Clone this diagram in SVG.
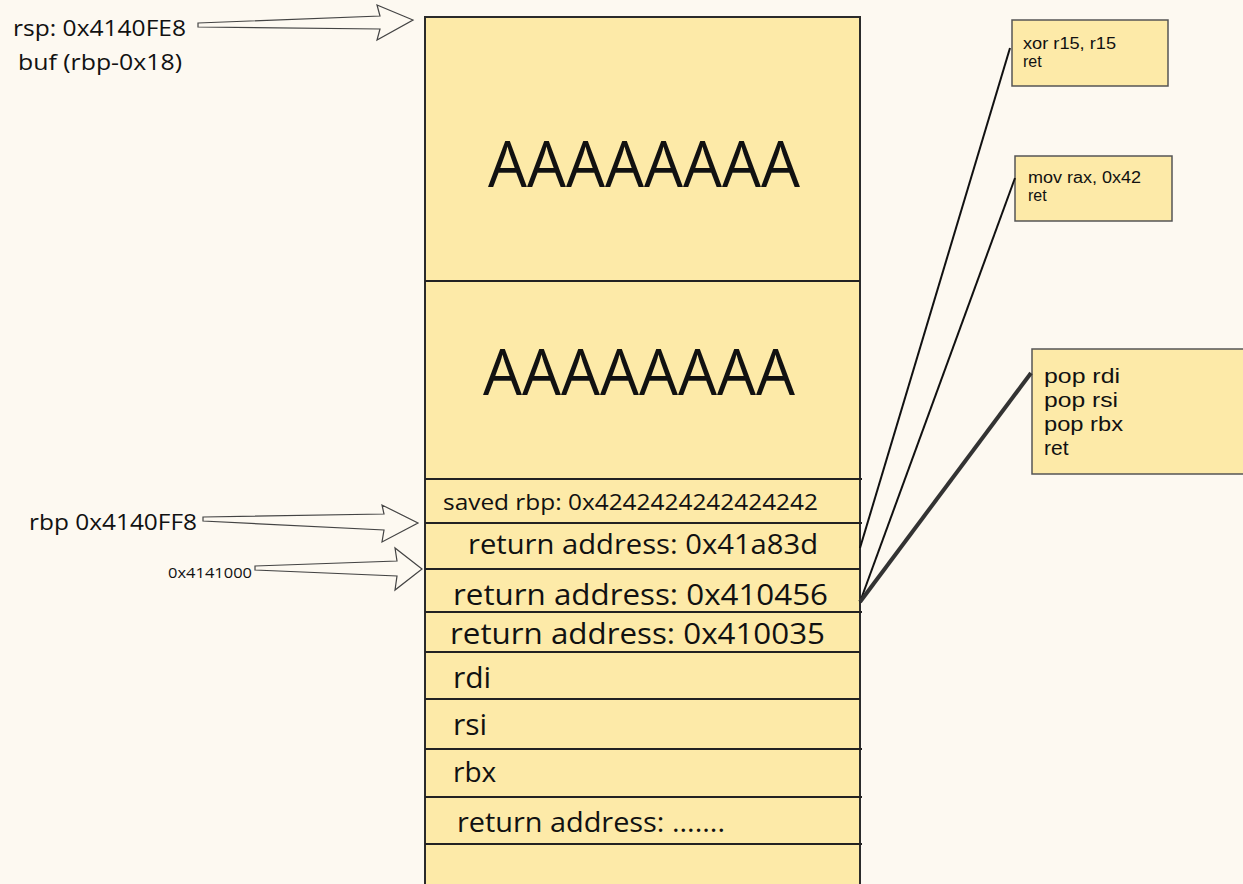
<svg xmlns="http://www.w3.org/2000/svg" width="1243" height="884" viewBox="0 0 1243 884">
  <style>
    .bg { fill: #fdf9f1; }
    .cell { fill: #fdeaa8; stroke: #2b2b2b; stroke-width: 2; }
    .sep { stroke: #222; stroke-width: 2; }
    .box { fill: #fdeaa8; stroke: #555; stroke-width: 1.5; }
    .t { font-family: "Open Sans", "Noto Sans", "Liberation Sans", sans-serif; fill: #111; }
    .tc { font-family: "Liberation Sans", "Open Sans", sans-serif; fill: #111; }
    .harrow { fill: #fdf9f1; stroke: #444; stroke-width: 1.2; stroke-linejoin: miter; }
    .link { stroke: #111; stroke-width: 2; fill: none; }
    .link-bold { stroke: #333; stroke-width: 4; fill: none; }
  </style>

  <rect class="bg" x="0" y="0" width="1243" height="884"/>

  <!-- stack frame column -->
  <g id="stack">
    <rect class="cell" x="425" y="17" width="435" height="880"/>
    <line class="sep" x1="425" y1="281" x2="860" y2="281"/>
    <line class="sep" x1="425" y1="479" x2="862" y2="479"/>
    <line class="sep" x1="425" y1="523" x2="862" y2="523"/>
    <line class="sep" x1="425" y1="569" x2="860" y2="569"/>
    <line class="sep" x1="425" y1="612" x2="862" y2="612"/>
    <line class="sep" x1="425" y1="652" x2="860" y2="652"/>
    <line class="sep" x1="425" y1="699" x2="860" y2="699"/>
    <line class="sep" x1="425" y1="749" x2="862" y2="749"/>
    <line class="sep" x1="425" y1="797" x2="862" y2="797"/>
    <line class="sep" x1="425" y1="844" x2="862" y2="844"/>
  </g>

  <g id="slot-buf-0">
    <text class="t" x="488" y="187" font-size="64" textLength="312" lengthAdjust="spacingAndGlyphs">AAAAAAAA</text>
  </g>
  <g id="slot-buf-1">
    <text class="t" x="483" y="395" font-size="64" textLength="312" lengthAdjust="spacingAndGlyphs">AAAAAAAA</text>
  </g>
  <g id="slot-saved-rbp">
    <text class="t" x="443" y="510" font-size="22" textLength="375" lengthAdjust="spacingAndGlyphs">saved rbp: 0x4242424242424242</text>
  </g>
  <g id="slot-ret-1">
    <text class="t" x="468" y="554" font-size="27" textLength="350" lengthAdjust="spacingAndGlyphs">return address: 0x41a83d</text>
  </g>
  <g id="slot-ret-2">
    <text class="t" x="453" y="605" font-size="30" textLength="375" lengthAdjust="spacingAndGlyphs">return address: 0x410456</text>
  </g>
  <g id="slot-ret-3">
    <text class="t" x="450" y="644" font-size="30" textLength="375" lengthAdjust="spacingAndGlyphs">return address: 0x410035</text>
  </g>
  <g id="slot-rdi">
    <text class="t" x="453" y="688" font-size="30">rdi</text>
  </g>
  <g id="slot-rsi">
    <text class="t" x="453" y="735" font-size="30">rsi</text>
  </g>
  <g id="slot-rbx">
    <text class="t" x="453" y="782" font-size="28">rbx</text>
  </g>
  <g id="slot-ret-next">
    <text class="t" x="457" y="832" font-size="27" textLength="268" lengthAdjust="spacingAndGlyphs">return address: .......</text>
  </g>

  <!-- pointer labels -->
  <g id="label-rsp">
    <text class="t" x="13" y="36" font-size="22" textLength="173" lengthAdjust="spacingAndGlyphs">rsp: 0x4140FE8</text>
    <text class="t" x="18" y="70" font-size="22" textLength="164" lengthAdjust="spacingAndGlyphs">buf (rbp-0x18)</text>
  </g>
  <g id="label-rbp">
    <text class="t" x="29" y="530" font-size="22" textLength="168" lengthAdjust="spacingAndGlyphs">rbp 0x4140FF8</text>
  </g>
  <g id="label-addr">
    <text class="t" x="168" y="578" font-size="14" textLength="84" lengthAdjust="spacingAndGlyphs">0x4141000</text>
  </g>

  <!-- gadget boxes -->
  <g id="gadget-xor">
    <rect class="box" x="1012" y="20" width="156" height="66"/>
    <text class="tc" x="1023" y="49" font-size="16" textLength="93" lengthAdjust="spacingAndGlyphs">xor r15, r15</text>
    <text class="tc" x="1023" y="67" font-size="16">ret</text>
  </g>
  <g id="gadget-mov">
    <rect class="box" x="1015" y="156" width="157" height="65"/>
    <text class="tc" x="1028" y="183" font-size="16" textLength="113" lengthAdjust="spacingAndGlyphs">mov rax, 0x42</text>
    <text class="tc" x="1028" y="201" font-size="16">ret</text>
  </g>
  <g id="gadget-pop">
    <rect class="box" x="1032" y="349" width="215" height="125"/>
    <text class="tc" x="1044" y="383" font-size="21" textLength="76" lengthAdjust="spacingAndGlyphs">pop rdi</text>
    <text class="tc" x="1044" y="407" font-size="21" textLength="74" lengthAdjust="spacingAndGlyphs">pop rsi</text>
    <text class="tc" x="1044" y="431" font-size="21" textLength="79" lengthAdjust="spacingAndGlyphs">pop rbx</text>
    <text class="tc" x="1044" y="455" font-size="21">ret</text>
  </g>

  <!-- connectors -->
  <g id="connectors">
    <polygon class="harrow" points="198,23 380,16 377,5 413,20 377,40 380,29 198,27"/>
    <polygon class="harrow" points="203,517 384,514 382,505 418,523 382,542 384,530 203,521"/>
    <polygon class="harrow" points="255,566 397,561 395,548 422,569 395,590 397,576 255,570"/>
    <line class="link" x1="1010" y1="48" x2="860" y2="548"/>
    <line class="link" x1="1015" y1="178" x2="860" y2="602"/>
    <line class="link-bold" x1="1031" y1="373" x2="860" y2="602"/>
  </g>
</svg>
